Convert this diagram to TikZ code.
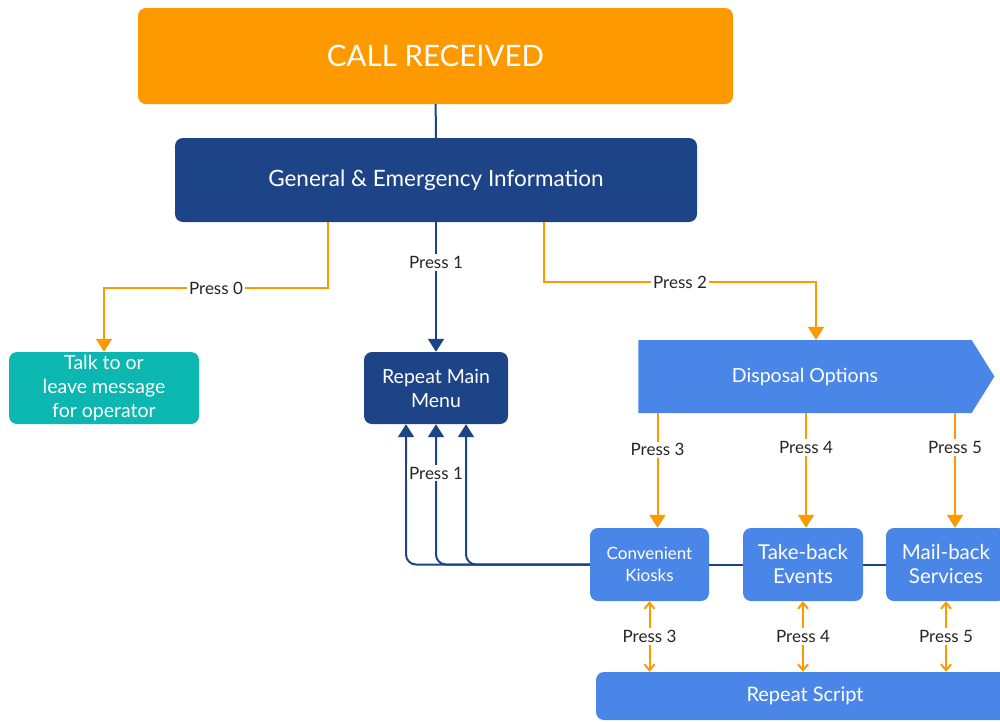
\documentclass[tikz,border=0pt]{standalone}
\usepackage{fontspec}
\setmainfont{Lato}
\usetikzlibrary{arrows.meta,shapes.symbols}
\definecolor{callorange}{HTML}{FF9900}
\definecolor{menublue}{HTML}{1E4488}
\definecolor{optblue}{HTML}{4A86E8}
\definecolor{opteal}{HTML}{0BB7B0}
\begin{document}
\begin{tikzpicture}[x=1pt,y=-1pt,
    box/.style={rounded corners=8pt,inner sep=0pt,text=white,align=center,font=\fontsize{19.5}{24}\selectfont},
    lbl/.style={fill=white,inner sep=2pt,text=black!85,font=\fontsize{17}{20}\selectfont},
    oline/.style={draw=callorange,line width=2pt},
    bline/.style={draw=menublue,line width=2pt},
    otip/.style={-{Triangle[width=16pt,length=13pt]}},
    btip/.style={-{Triangle[width=16pt,length=13pt]}},
    dtip/.style={{Straight Barb[width=10pt,length=6pt]}-{Straight Barb[width=10pt,length=6pt]}}]
    \useasboundingbox (0,0) rectangle (1000,721);
    % boxes
    \node[box,fill=callorange,minimum width=595pt,minimum height=96pt,font=\fontsize{29.5}{32}\selectfont] (call) at (435.5,56) {CALL RECEIVED};
    \node[box,fill=menublue,minimum width=522pt,minimum height=84pt,font=\fontsize{22.5}{26}\selectfont] (info) at (436,180) {General \& Emergency Information};
    \node[box,fill=opteal,minimum width=190pt,minimum height=72pt] (talk) at (104,388) {Talk to or\\leave message\\for operator};
    \node[box,fill=menublue,minimum width=144pt,minimum height=72pt] (rmm) at (436,388) {Repeat Main\\Menu};
    \node[signal,signal to=east,signal pointer angle=116,fill=optblue,inner sep=0pt,text=white,
          minimum width=356pt,minimum height=73pt,font=\fontsize{19.5}{24}\selectfont] (disp) at (805,376.5) {Disposal Options};
    \node[box,fill=optblue,minimum width=119pt,minimum height=73pt,font=\fontsize{17}{22}\selectfont] (kiosk) at (649.5,564.5) {Convenient\\Kiosks};
    \node[box,fill=optblue,minimum width=120pt,minimum height=73pt,font=\fontsize{20.5}{24}\selectfont] (take) at (803,564.5) {Take-back\\Events};
    \node[box,fill=optblue,minimum width=120pt,minimum height=73pt,font=\fontsize{20.5}{24}\selectfont] (mail) at (946,564.5) {Mail-back\\Services};
    \node[box,fill=optblue,minimum width=418pt,minimum height=48pt,font=\fontsize{20}{24}\selectfont] (script) at (805,696) {Repeat Script};
    % links
    \draw[bline] (call) -- (info);
    \draw[oline,otip] ([xshift=-108pt]info.south) -- ++(0,66) -| (talk.north) node[lbl,pos=0.25] (pzero) {Press 0};
    \draw[bline,btip] (info) -- (rmm) node[lbl,pos=0.31] (pone) {Press 1};
    \draw[oline,otip] ([xshift=108pt]info.south) -- ++(0,60) -| ([xshift=11pt]disp.north) node[lbl,pos=0.25] (ptwo) {Press 2};
    \draw[oline,otip] ([xshift=8pt]kiosk.north |- disp.south) -- ([xshift=8pt]kiosk.north) node[lbl,pos=0.32] (pthree) {Press 3};
    \draw[oline,otip] ([xshift=3pt]take.north |- disp.south) -- ([xshift=3pt]take.north) node[lbl,pos=0.3] (pfour) {Press 4};
    \draw[oline,otip] ([xshift=9pt]mail.north |- disp.south) -- ([xshift=9pt]mail.north) node[lbl,pos=0.3] (pfive) {Press 5};
    \draw[bline] (mail) -- (take);
    \draw[bline] (take) -- (kiosk);
    \foreach \dx in {-30,0,30}
        \draw[bline,btip,rounded corners=10pt] (kiosk.west) -| ([xshift=\dx pt]rmm.south);
    \node[lbl] (pback) at ([yshift=-49pt]rmm.south) {Press 1};
    \draw[oline,dtip] (kiosk.south) -- (kiosk.south |- script.north) node[lbl,midway] (sthree) {Press 3};
    \draw[oline,dtip] (take.south) -- (take.south |- script.north) node[lbl,midway] (sfour) {Press 4};
    \draw[oline,dtip] (mail.south) -- (mail.south |- script.north) node[lbl,midway] (sfive) {Press 5};
\end{tikzpicture}
\end{document}
